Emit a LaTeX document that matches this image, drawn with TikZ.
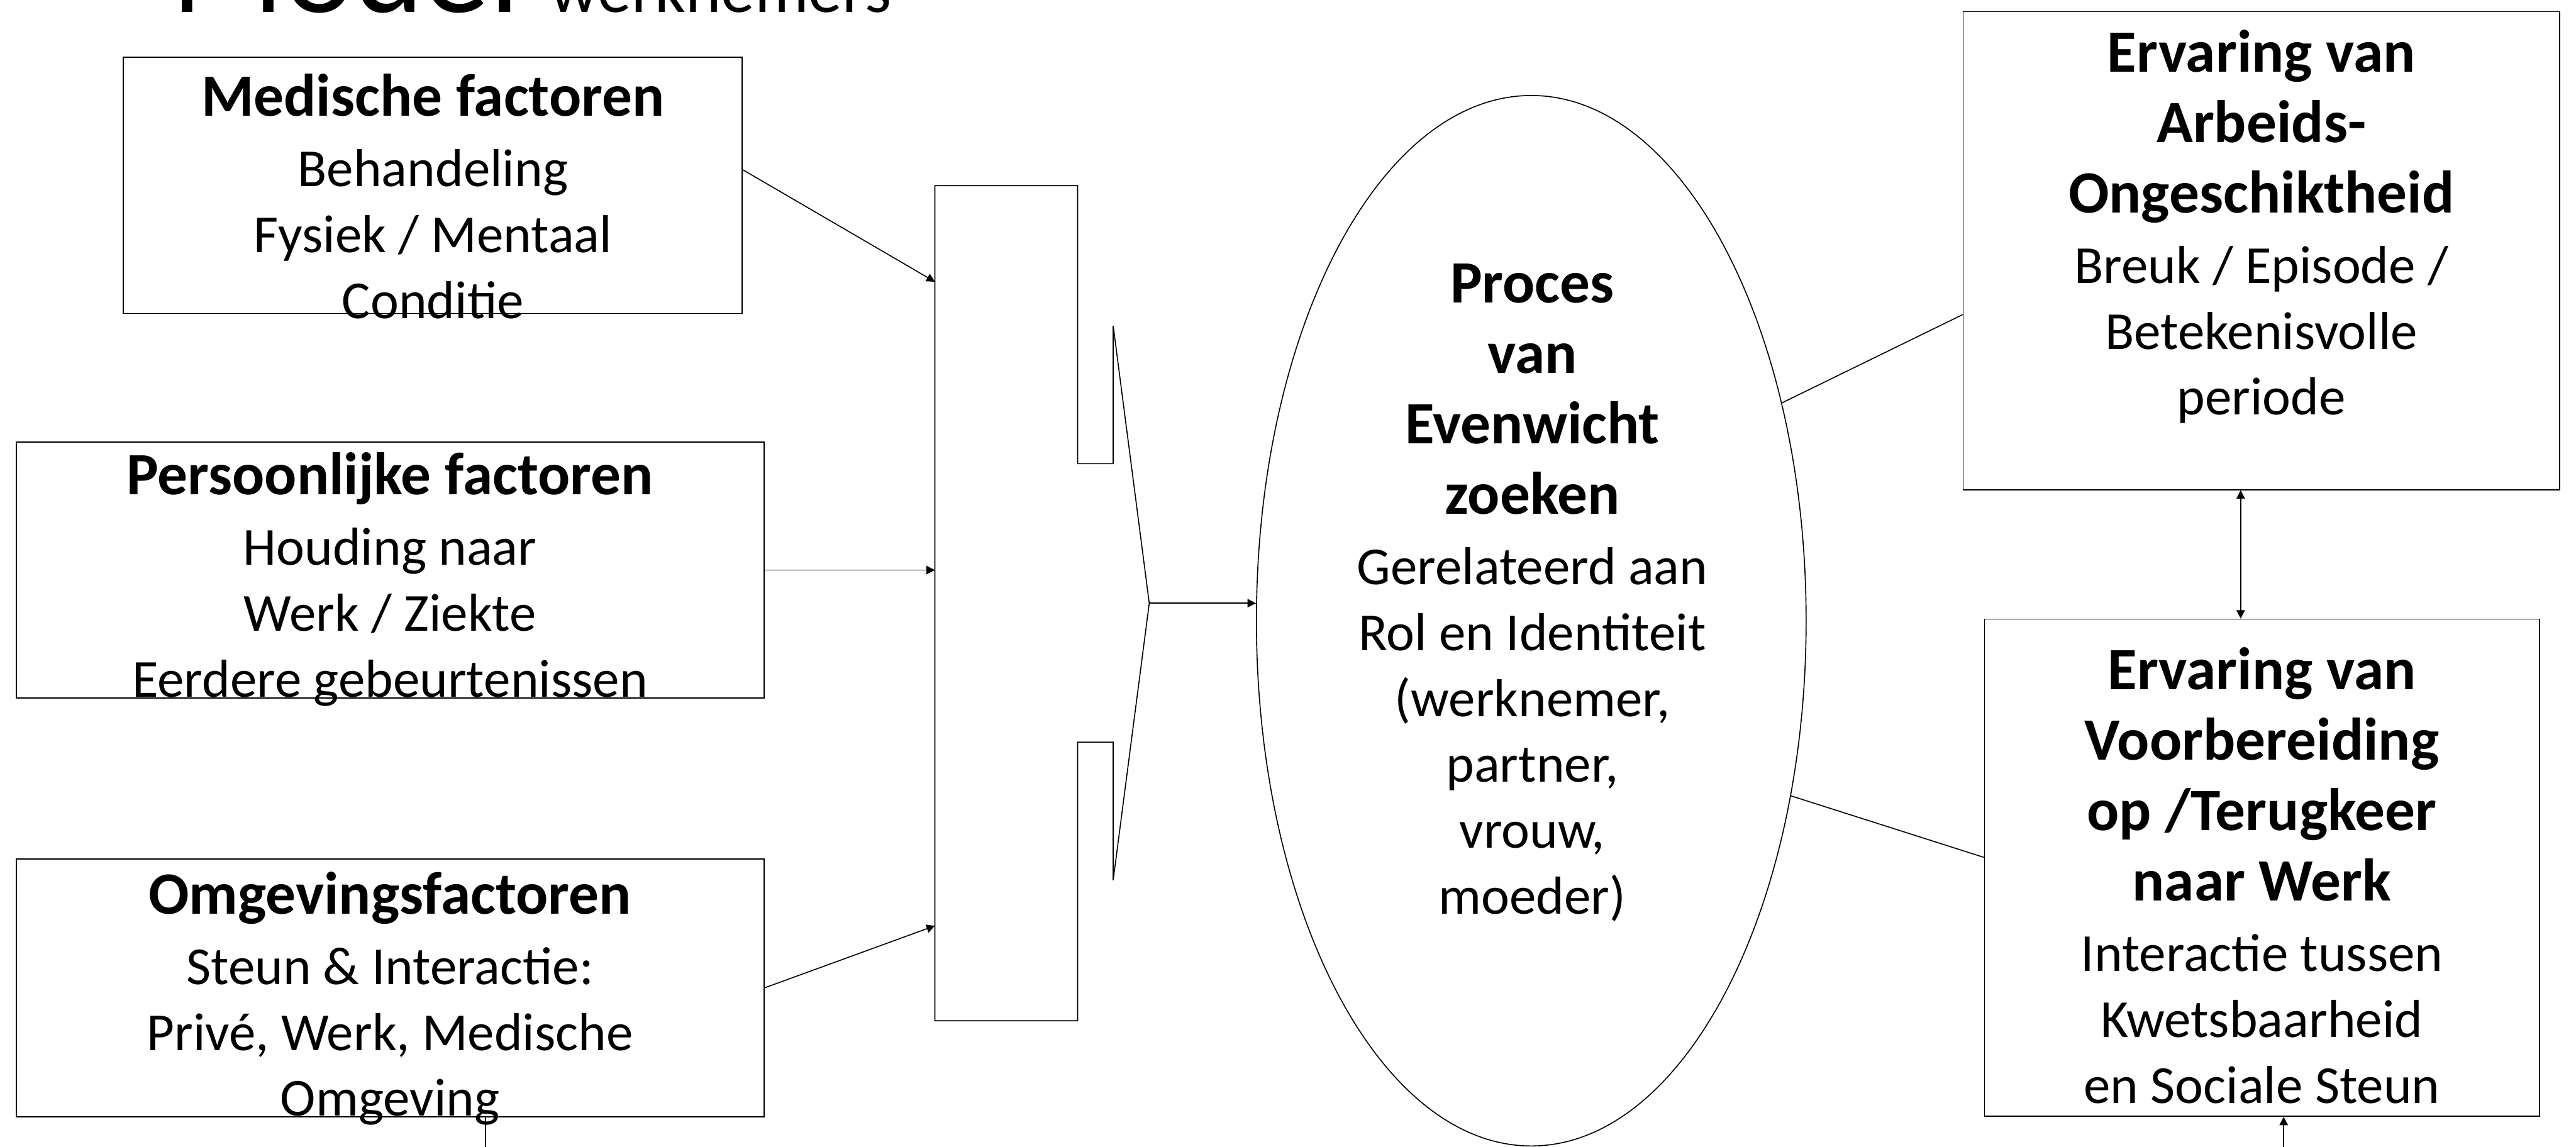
\documentclass[tikz,border=0pt]{standalone}
\usepackage{fontspec}
\setmainfont{Carlito}
\usetikzlibrary{arrows.meta,shapes.geometric}
\newcommand\kop[1]{{\fontsize{32.2}{38.5}\selectfont\bfseries #1}\\[2.5pt]}
\begin{document}
\begin{tikzpicture}[line width=0.55pt,
  box/.style={draw, rectangle, inner sep=0pt},
  txt/.style={align=center, inner sep=0pt, font=\fontsize{28.7}{35.3}\selectfont},
  pijl/.style={-{Triangle[length=4.5pt,width=4.5pt]}}]
\useasboundingbox (0,0) rectangle (48.55,-21.61);
\clip (0,0) rectangle (48.55,-21.61);

\node[anchor=base west, inner sep=0pt, font=\fontsize{71}{78}\selectfont] (titel) at (3.22,-0.23) {Model {\fontsize{36.2}{40}\selectfont werknemers}};

\node[box, minimum width=11.67cm, minimum height=4.83cm] (med) at (8.155,-3.495) {};
\node[box, minimum width=14.09cm, minimum height=4.83cm] (pers) at (7.355,-10.745) {};
\node[box, minimum width=14.09cm, minimum height=4.86cm] (omg) at (7.355,-18.62) {};
\node[box, minimum width=11.24cm, minimum height=9.01cm] (erv1) at (42.62,-4.725) {};
\node[box, minimum width=10.46cm, minimum height=9.37cm] (erv2) at (42.63,-16.355) {};
\node[draw, ellipse, minimum width=10.36cm, minimum height=19.8cm, inner sep=0pt] (evenw) at (28.86,-11.70) {};

\coordinate (inA) at (17.62,-5.31);
\coordinate (inB) at (17.62,-10.745);
\coordinate (inC) at (17.62,-17.45);
\coordinate (punt) at (21.66,-11.37);
\draw (17.62,-3.50) -- (20.31,-3.50) -- (20.31,-8.74) -- (20.98,-8.74) -- (20.98,-6.14) -- (punt)
  -- (20.98,-16.59) -- (20.98,-13.99) -- (20.31,-13.99) -- (20.31,-19.24) -- (17.62,-19.24) -- cycle;

\draw[pijl] ([yshift=0.295cm]med.east) -- (inA);
\draw[pijl] (pers.east) -- (inB);
\draw[pijl] (omg.east) -- (inC);
\draw[pijl] (punt) -- (punt -| evenw.west);
\draw (evenw.41) -- ([yshift=-1.205cm]erv1.west);
\draw (evenw.-34) -- ([yshift=0.195cm]erv2.west);
\draw[{Triangle[length=4.5pt,width=4.5pt]}-{Triangle[length=4.5pt,width=4.5pt]}] ([xshift=-0.39cm]erv1.south) -- ([xshift=-0.39cm]erv1.south |- erv2.north);
\coordinate (onderL) at (9.15,-21.8);
\coordinate (onderR) at (43.04,-21.8);
\draw (omg.south -| onderL) -- (onderL);
\draw[pijl] (onderR) -- (erv2.south -| onderR);

\node[txt] (medT) at (8.16,-3.70) {\kop{Medische factoren}Behandeling\\Fysiek / Mentaal\\Conditie};
\node[txt] (persT) at (7.35,-10.92) {\kop{Persoonlijke factoren}Houding naar\\Werk / Ziekte\\Eerdere gebeurtenissen};
\node[txt] (omgT) at (7.35,-18.82) {\kop{Omgevingsfactoren}Steun \& Interactie:\\Privé, Werk, Medische\\Omgeving};
\node[txt] (evenwT) at (28.88,-11.17) {\kop{Proces}\kop{van}\kop{Evenwicht}\kop{zoeken}Gerelateerd aan\\Rol en Identiteit\\(werknemer,\\partner,\\vrouw,\\moeder)};
\node[txt] (erv1T) at (42.62,-4.27) {\kop{Ervaring van}\kop{Arbeids-}\kop{Ongeschiktheid}Breuk / Episode /\\Betekenisvolle\\periode};
\node[txt] (erv2T) at (42.63,-16.50) {\kop{Ervaring van}\kop{Voorbereiding}\kop{op /Terugkeer}\kop{naar Werk}Interactie tussen\\Kwetsbaarheid\\en Sociale Steun};
\end{tikzpicture}
\end{document}
